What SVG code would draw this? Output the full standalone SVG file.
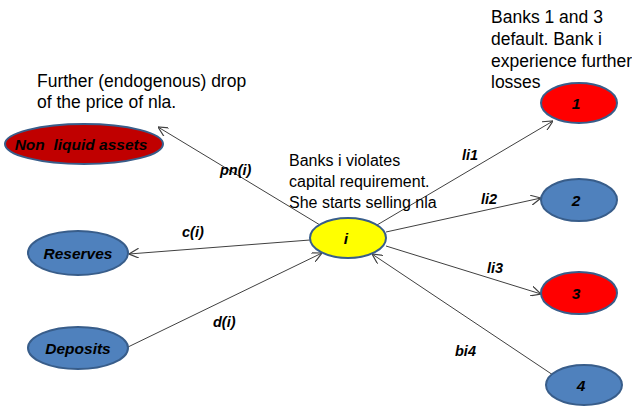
<svg xmlns="http://www.w3.org/2000/svg" width="632" height="406" viewBox="0 0 632 406">
<style>
.n{stroke:#385D8A;stroke-width:2}
.blue{fill:#4F81BD}.red{fill:#FF0000}.dred{fill:#C00000}.yel{fill:#FFFF00}
.nl{font-family:"Liberation Sans",Arial,sans-serif;font-size:15.5px;font-weight:bold;font-style:italic;fill:#000;text-anchor:middle}
.el{font-family:"Liberation Sans",Arial,sans-serif;font-size:14.5px;font-weight:bold;font-style:italic;fill:#000}
.t{font-family:"Liberation Sans",Arial,sans-serif;font-size:17.5px;fill:#000}
.c{stroke:#404040;stroke-width:1;fill:none;marker-end:url(#a)}
</style>
<defs>
<marker id="a" viewBox="0 0 10 10" refX="10" refY="5" markerWidth="10" markerHeight="10" markerUnits="userSpaceOnUse" orient="auto">
<path d="M0,0 L10,5 L0,10" fill="none" stroke="#404040" stroke-width="1.2"/>
</marker>
</defs>
<rect width="632" height="406" fill="#fff"/>
<g id="connectors">
<line class="c" x1="320" y1="225" x2="158" y2="127"/>
<line class="c" x1="310" y1="240" x2="129" y2="254"/>
<line class="c" x1="128" y1="347" x2="322" y2="253"/>
<line class="c" x1="377" y1="225" x2="553" y2="121"/>
<line class="c" x1="386" y1="232" x2="541" y2="198"/>
<line class="c" x1="386" y1="246" x2="541" y2="294"/>
<line class="c" x1="556" y1="377" x2="372" y2="254"/>
<text class="el" x="220" y="175">pn(i)</text>
<text class="el" x="182" y="237">c(i)</text>
<text class="el" x="213" y="327">d(i)</text>
<text class="el" x="462" y="160">li1</text>
<text class="el" x="481" y="204">li2</text>
<text class="el" x="487" y="273">li3</text>
<text class="el" x="455" y="356">bi4</text>
</g>
<g id="nla"><ellipse class="n dred" cx="84" cy="144" rx="79" ry="20"/><text class="nl" x="81" y="150" xml:space="preserve">Non  liquid assets</text></g>
<g id="reserves"><ellipse class="n blue" cx="78" cy="253" rx="50" ry="22"/><text class="nl" x="78" y="259">Reserves</text></g>
<g id="deposits"><ellipse class="n blue" cx="78" cy="348" rx="50" ry="21"/><text class="nl" x="78" y="354">Deposits</text></g>
<g id="i"><ellipse class="n yel" cx="348" cy="238" rx="38" ry="20"/><text class="nl" x="346" y="244">i</text></g>
<g id="n1"><ellipse class="n red" cx="579" cy="103" rx="38" ry="20"/><text class="nl" x="576" y="109">1</text></g>
<g id="n2"><ellipse class="n blue" cx="579" cy="200" rx="38" ry="21"/><text class="nl" x="576" y="206">2</text></g>
<g id="n3"><ellipse class="n red" cx="579" cy="293" rx="38" ry="21"/><text class="nl" x="576" y="299">3</text></g>
<g id="n4"><ellipse class="n blue" cx="584" cy="385" rx="38" ry="20"/><text class="nl" x="581" y="391">4</text></g>
<g id="notes">
<text class="t" x="37" y="87">Further (endogenous) drop</text>
<text class="t" x="37" y="108">of the price of nla.</text>
<text class="t" x="289" y="166" style="font-size:16px">Banks i violates</text>
<text class="t" x="289" y="187" style="font-size:16px">capital requirement.</text>
<text class="t" x="289" y="208" style="font-size:16px">She starts selling nla</text>
<text class="t" x="491" y="23">Banks 1 and 3</text>
<text class="t" x="491" y="45">default. Bank i</text>
<text class="t" x="491" y="67">experience further</text>
<text class="t" x="491" y="88">losses</text>
</g>
</svg>
